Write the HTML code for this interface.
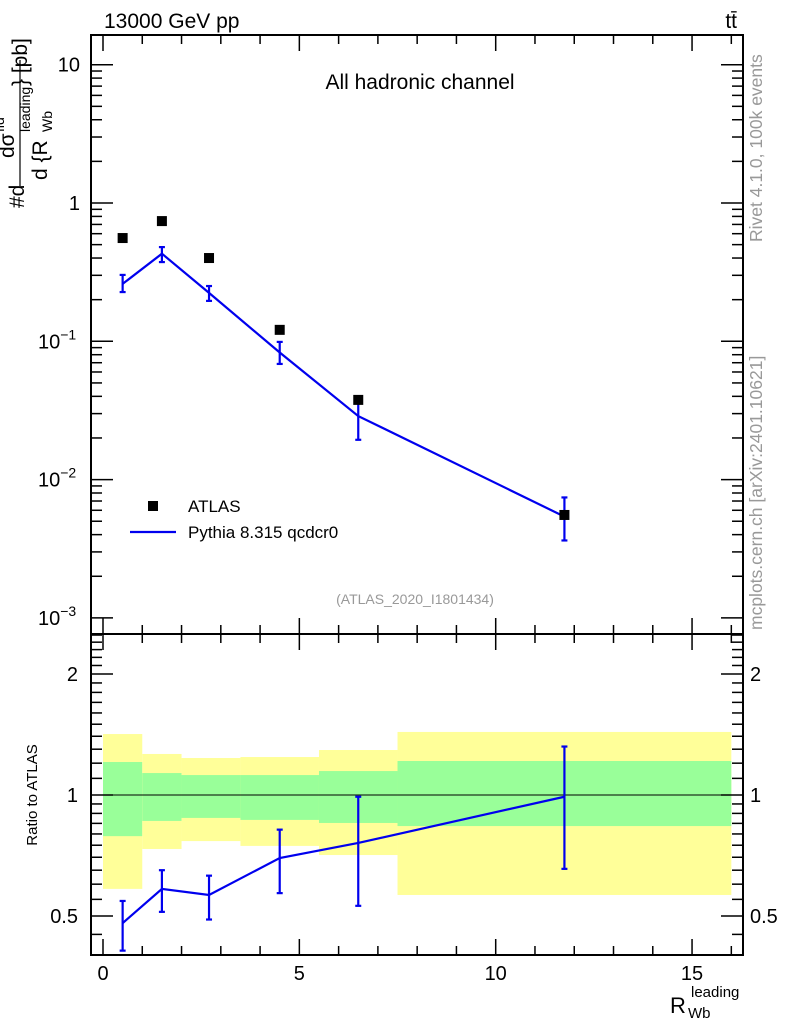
<!DOCTYPE html>
<html><head><meta charset="utf-8"><style>
body{margin:0;background:#fff}
svg{display:block;font-family:"Liberation Sans",sans-serif}
</style></head><body>
<svg id="c" width="786" height="1024" xmlns="http://www.w3.org/2000/svg"></svg>
<script>
const binEdges=[0,1,2,3.5,5.5,7.5,16];
const xPts=[0.5,1.5,2.7,4.5,6.5,11.75];
const atlasVals=[0.558,0.74,0.40,0.121,0.0377,0.00555];
const mcVals=[0.26,0.43,0.224,0.083,0.0288,0.0054];
const mcLo=[0.227,0.374,0.196,0.0686,0.0194,0.00363];
const mcHi=[0.302,0.48,0.251,0.099,0.0383,0.00743];
const ratioVals=[0.48,0.584,0.564,0.697,0.76,0.99];
const ratioLo=[0.41,0.512,0.49,0.57,0.53,0.655];
const ratioHi=[0.545,0.65,0.63,0.82,0.99,1.32];
const greenLo=[0.79,0.862,0.877,0.867,0.852,0.837];
const greenHi=[1.208,1.134,1.121,1.121,1.147,1.215];
const yellowLo=[0.584,0.734,0.768,0.747,0.709,0.564];
const yellowHi=[1.418,1.265,1.236,1.243,1.294,1.435];
const xTickLabels=["0","5","10","15"];

const NS="http://www.w3.org/2000/svg",svg=document.getElementById('c');
function mk(t,a,p){const e=document.createElementNS(NS,t);for(const k in a)e.setAttribute(k,a[k]);(p||svg).appendChild(e);return e;}
const L=91,R=743,T1=35,B1=634,B2=955;
const X=v=>103+v*39.27;
const Y=v=>203-Math.log10(v)*138.3;
const YR=v=>795-Math.log2(v)*121;

for(let i=0;i<6;i++){
 let e=mk('rect',{x:X(binEdges[i]),y:YR(yellowHi[i]),width:X(binEdges[i+1])-X(binEdges[i]),height:YR(yellowLo[i])-YR(yellowHi[i]),fill:'#ffff99'});
 
 e=mk('rect',{x:X(binEdges[i]),y:YR(greenHi[i]),width:X(binEdges[i+1])-X(binEdges[i]),height:YR(greenLo[i])-YR(greenHi[i]),fill:'#99ff99'});
 
}
mk('line',{x1:L,x2:R,y1:YR(1),y2:YR(1),stroke:'#000','stroke-width':1,});

mk('rect',{x:L,y:T1,width:R-L,height:B1-T1,fill:'none',stroke:'#000','stroke-width':2,});
mk('rect',{x:L,y:B1,width:R-L,height:B2-B1,fill:'none',stroke:'#000','stroke-width':2,});

const tg=mk('g',{stroke:'#000','stroke-width':1.5,});
for(let v=0;v<=16;v++){const x=X(v),big=v%5==0?16:9;
 [[T1,1],[B1,-1],[B1,1],[B2,-1]].forEach(([y,d])=>mk('line',{x1:x,x2:x,y1:y,y2:y+d*big},tg));}
for(let d=-3;d<=1;d++)for(let m=1;m<10;m++){const v=m*Math.pow(10,d),y=Y(v);if(y<T1||y>B1)continue;const w=m==1?22:11;
 mk('line',{x1:L,x2:L+w,y1:y,y2:y},tg);mk('line',{x1:R,x2:R-w,y1:y,y2:y},tg);}
[0.4,0.45,0.5,0.55,0.6,0.65,0.7,0.75,0.8,0.85,0.9,0.95,1,1.1,1.2,1.3,1.4,1.5,1.6,1.7,1.8,1.9,2,2.1,2.2,2.3,2.4,2.5].forEach(v=>{const y=YR(v);if(y<B1||y>B2)return;const w=(v==0.5||v==1||v==2)?22:11;
 mk('line',{x1:L,x2:L+w,y1:y,y2:y},tg);mk('line',{x1:R,x2:R-w,y1:y,y2:y},tg);});

function txt(s,a,name){const e=mk('text',a);e.textContent=s;return e;}
xTickLabels.forEach((s,i)=>txt(s,{x:X(i*5),y:980,'font-size':20,'text-anchor':'middle'},'x-tick-label'));
const yl=[[10,'10',null],[1,'1',null],[0.1,'10','−1'],[0.01,'10','−2'],[0.001,'10','−3']];
yl.forEach(([v,b,s])=>{const e=txt('',{x:s?38:80,y:Y(v)+7,'font-size':20,'text-anchor':s?'start':'end'},'y-tick-label');
 e.textContent=b;if(s){const t=mk('tspan',{dy:-9,'font-size':14},e);t.textContent=s;}});
[['2',2],['1',1],['0.5',0.5]].forEach(([s,v])=>{txt(s,{x:78,y:YR(v)+7,'font-size':20,'text-anchor':'end'},'ratio-tick-label');txt(s,{x:750,y:YR(v)+7,'font-size':20},'ratio-tick-label-right');});

let d='';xPts.forEach((x,i)=>d+=(i?'L':'M')+X(x)+','+Y(mcVals[i]));
mk('path',{d:d,fill:'none',stroke:'#0000ee','stroke-width':2.2,});
xPts.forEach((x,i)=>{const g=mk('g',{stroke:'#0000ee','stroke-width':2.2,});
 mk('line',{x1:X(x),x2:X(x),y1:Y(mcLo[i]),y2:Y(mcHi[i])},g);
 mk('line',{x1:X(x)-3,x2:X(x)+3,y1:Y(mcLo[i]),y2:Y(mcLo[i])},g);mk('line',{x1:X(x)-3,x2:X(x)+3,y1:Y(mcHi[i]),y2:Y(mcHi[i])},g);});
xPts.forEach((x,i)=>{const e=mk('rect',{x:X(x)-5,y:Y(atlasVals[i])-5,width:10,height:10,fill:'#000'});
 });

d='';xPts.forEach((x,i)=>d+=(i?'L':'M')+X(x)+','+YR(ratioVals[i]));
mk('path',{d:d,fill:'none',stroke:'#0000ee','stroke-width':2.2,});
xPts.forEach((x,i)=>{const g=mk('g',{stroke:'#0000ee','stroke-width':2.2,});
 const a=YR(ratioLo[i]),b=YR(ratioHi[i]);
 mk('line',{x1:X(x),x2:X(x),y1:a,y2:b},g);mk('line',{x1:X(x)-3,x2:X(x)+3,y1:a,y2:a},g);mk('line',{x1:X(x)-3,x2:X(x)+3,y1:b,y2:b},g);});

txt('13000 GeV pp',{x:104,y:28,'font-size':21},'energy-label');
txt('tt̄',{x:737,y:28,'font-size':21,'text-anchor':'end'},'process-label');
txt('All hadronic channel',{x:420,y:89,'font-size':21,'text-anchor':'middle'},'plot-title');
txt('(ATLAS_2020_I1801434)',{x:415,y:604,'font-size':14,'text-anchor':'middle',fill:'#999'},'analysis-id');
mk('rect',{x:148,y:501,width:10,height:10,fill:'#000',});
txt('ATLAS',{x:188,y:512,'font-size':17},'legend-atlas');
mk('line',{x1:130,x2:176,y1:532,y2:532,stroke:'#0000ee','stroke-width':2.2,});
txt('Pythia 8.315 qcdcr0',{x:188,y:538,'font-size':17},'legend-mc');
txt('Rivet 4.1.0,  100k events',{x:0,y:0,'font-size':17.5,fill:'#999',transform:'translate(762,242) rotate(-90)'},'rivet-label');
txt('mcplots.cern.ch [arXiv:2401.10621]',{x:0,y:0,'font-size':17.5,fill:'#999',transform:'translate(762,630) rotate(-90)'},'mcplots-label');
txt('Ratio to ATLAS',{x:0,y:0,'font-size':15,'text-anchor':'middle',transform:'translate(37,795) rotate(-90)'},'ratio-axis-title');
txt('R',{x:670,y:1013,'font-size':22},'x-axis-title');
txt('leading',{x:691,y:997,'font-size':15},'x-axis-title-sup');txt('Wb',{x:688,y:1018,'font-size':15},'x-axis-title-sub');
const yg=mk('g',{transform:'translate(24,210) rotate(-90)',});
const t1=mk('text',{x:2,y:0,'font-size':21},yg);t1.textContent='#d';
mk('line',{x1:24,x2:150,y1:-4,y2:-4,stroke:'#000','stroke-width':1.2},yg);
const t2=mk('text',{x:52,y:-10,'font-size':21},yg);t2.textContent='dσ';
const t2b=mk('text',{x:78,y:-20,'font-size':14},yg);t2b.textContent='fid';
const t3=mk('text',{x:30,y:23,'font-size':21},yg);t3.textContent='d {R';
const t4=mk('text',{x:78,y:6,'font-size':14},yg);t4.textContent='leading';
const t5=mk('text',{x:78,y:28,'font-size':14},yg);t5.textContent='Wb';
const t6=mk('text',{x:124,y:3,'font-size':21},yg);t6.textContent='} [pb]';
</script>
</body></html>
